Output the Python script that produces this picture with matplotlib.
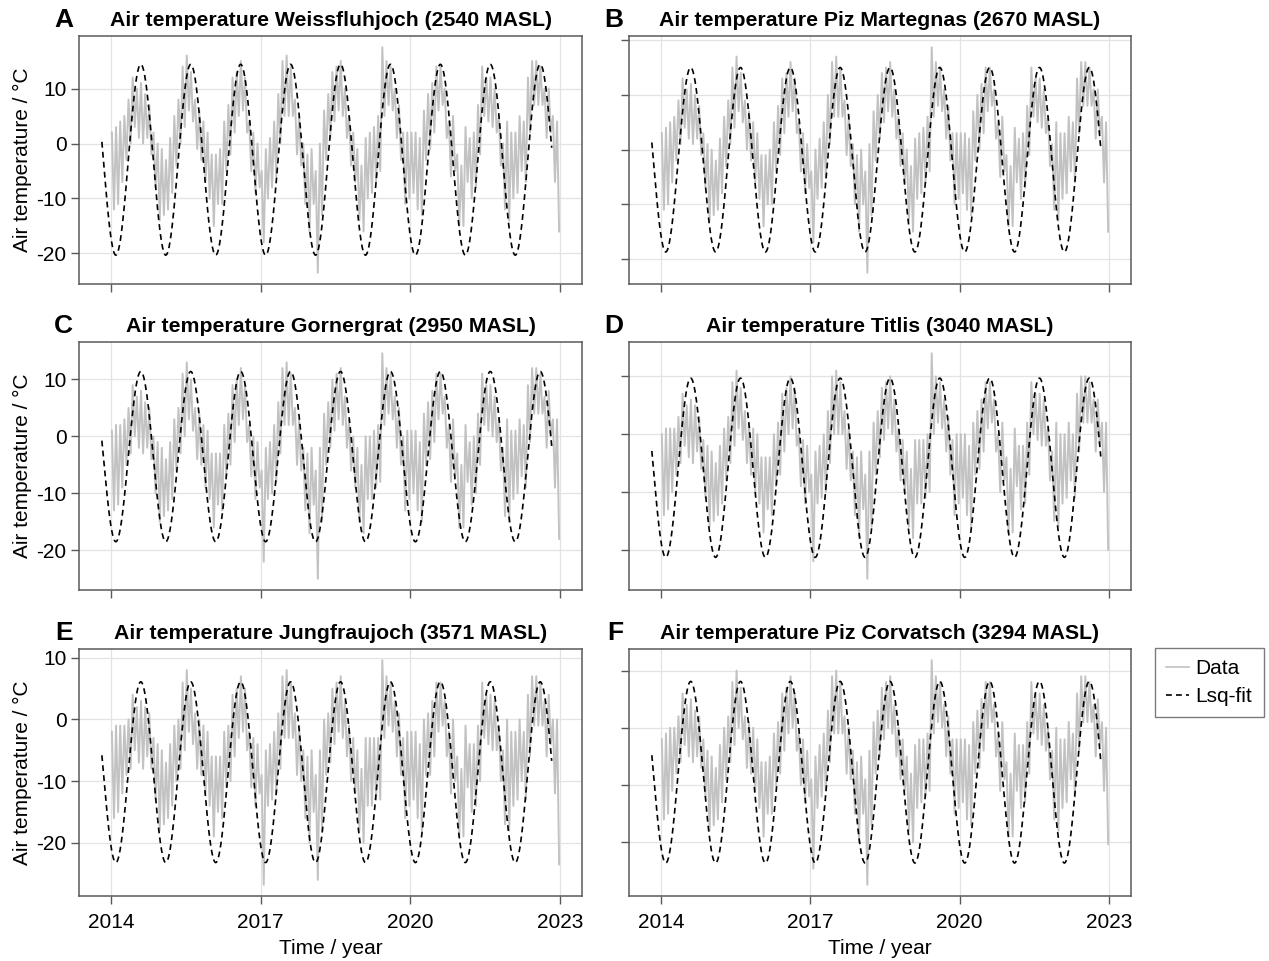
import matplotlib
matplotlib.use("Agg")
import matplotlib.pyplot as plt
from matplotlib.ticker import MultipleLocator
import numpy as np

# ── DATA ─────────────────────────────────────────────────────────────────────
# monthly (high, low) pairs, Jan 2014 .. Dec 2022
WEISS = [
    2, -12, 3, -11, 4, -7, 5, -3, 8, 0, 12, 3, 10, 1, 11, 0, 9, 1, 7, -2, 2, -8, 0, -14,
    -1, -13, -3, -12, 1, -9, 5, -4, 8, 0, 14, 3, 16, 6, 13, 4, 8, -1, 6, -3, 4, -7, 2, -10,
    -2, -15, -2, -11, -1, -11, 4, -5, 7, -2, 12, 2, 13, 5, 15, 6, 12, 2, 4, -5, 2, -9, 0, -8,
    -5, -18, -1, -10, 1, -8, 4, -6, 9, 0, 15, 5, 16, 5, 14, 5, 8, -2, 5, -4, 0, -11, -2, -16,
    -1, -11, -5, -23.5, 0, -13, 6, -3, 9, 1, 13, 4, 14, 6, 15, 5, 10, 1, 5, -4, 2, -7, -1, -14,
    -4, -16, 1, -10, 2, -9, 3, -7, 5, -5, 17.5, 5, 15, 7, 14, 6, 10, 1, 7, -3, 2, -11, 2, -10,
    2, -9, 2, -12, 1, -13, 6, -3, 9, -1, 11, 2, 14, 6, 14, 7, 10, 1, 4, -6, 5, -5, -2, -15,
    -4, -15, 3, -7, 1, -10, 2, -8, 7, -2, 14, 5, 12, 4, 12, 3, 10, 2, 5, -4, 0, -12, 4, -14,
    2, -10, 2, -9, 5, -5, 4, -7, 12, 2, 15, 7, 15, 7, 14, 7, 10, 1, 10, 2, 5, -7, 4, -16,
]
MARTEGNAS = [
    3, -11, 4, -10, 5, -6, 6, -2, 9, 1, 13, 4, 11, 2, 12, 1, 10, 2, 8, -1, 3, -7, 1, -13,
    0, -12, -2, -11, 2, -8, 6, -3, 9, 1, 15, 4, 17, 7, 14, 5, 9, 0, 7, -2, 5, -6, 3, -9,
    -1, -14, -1, -10, 0, -10, 5, -4, 8, -1, 13, 3, 14, 6, 16, 7, 13, 3, 5, -4, 3, -8, 1, -7,
    -4, -17, 0, -9, 2, -7, 5, -5, 10, 1, 16, 6, 17, 6, 15, 6, 9, -1, 6, -3, 1, -10, -1, -15,
    0, -10, -4, -22.5, 1, -12, 7, -2, 10, 2, 14, 5, 15, 7, 16, 6, 11, 2, 6, -3, 3, -6, 0, -13,
    -3, -15, 2, -9, 3, -8, 4, -6, 6, -4, 18.7, 6, 16, 8, 15, 7, 11, 2, 8, -2, 3, -10, 3, -9,
    3, -8, 3, -11, 2, -12, 7, -2, 10, 0, 12, 3, 15, 7, 15, 8, 11, 2, 5, -5, 6, -4, -1, -14,
    -3, -14, 4, -6, 2, -9, 3, -7, 8, -1, 15, 6, 13, 5, 13, 4, 11, 3, 6, -3, 1, -11, 5, -13,
    3, -9, 3, -8, 6, -4, 5, -6, 13, 3, 16, 8, 16, 8, 15, 8, 11, 2, 11, 3, 6, -6, 5, -15,
]
GORNERGRAT = [
    1, -13, 2, -12, 2, -9, 3, -5, 5, -3, 9, 0, 7, -2, 8, -3, 6, -2, 5, -4, 0, -10, -1, -15,
    -2, -14, -4, -13, -1, -11, 3, -6, 5, -3, 11, 0, 13, 3, 10, 1, 5, -4, 4, -5, 2, -9, 1, -11,
    -3, -16, -3, -12, -3, -13, 2, -7, 4, -5, 9, -1, 10, 2, 12, 3, 9, -1, 2, -7, 0, -11, -1, -9,
    -6, -22, -2, -11, -1, -10, 2, -8, 6, -3, 12, 2, 13, 2, 11, 2, 5, -5, 3, -6, -2, -13, -3, -17,
    -2, -12, -6, -25, -2, -15, 4, -5, 6, -2, 10, 1, 11, 3, 12, 2, 7, -2, 3, -6, 0, -9, -2, -15,
    -5, -17, 0, -11, 0, -11, 1, -9, 2, -8, 14.6, 2, 12, 4, 11, 3, 7, -2, 5, -5, 0, -13, 1, -11,
    1, -10, 1, -13, -1, -15, 4, -5, 6, -4, 8, -1, 11, 3, 11, 4, 7, -2, 2, -8, 3, -7, -3, -16,
    -5, -16, 2, -8, -1, -12, 0, -10, 4, -5, 11, 2, 9, 1, 9, 0, 7, -1, 3, -6, -2, -14, 3, -15,
    1, -11, 1, -10, 3, -7, 2, -9, 9, -1, 12, 4, 12, 4, 11, 4, 7, -2, 8, 0, 3, -9, 3, -18,
]
TITLIS = [
    0, -14, 1, -13, 1, -10, 1, -7, 3, -5, 7, -2, 5, -4, 6, -5, 5, -3, 3, -6, -1, -11, -2, -16,
    -3, -15, -5, -14, -2, -12, 1, -8, 3, -5, 9, -2, 11, 1, 8, -1, 4, -5, 2, -7, 1, -10, 0, -12,
    -4, -17, -4, -13, -4, -14, 0, -9, 2, -7, 7, -3, 8, 0, 10, 1, 8, -2, 0, -9, -1, -12, -2, -10,
    -7, -22, -3, -12, -2, -11, 0, -10, 4, -5, 10, 0, 11, 0, 9, 0, 4, -6, 1, -8, -3, -14, -4, -18,
    -3, -13, -7, -25, -3, -16, 2, -7, 4, -4, 8, -1, 9, 1, 10, 0, 6, -3, 1, -8, -1, -10, -3, -16,
    -6, -18, -1, -12, -1, -12, -1, -11, 0, -10, 14, 0, 10, 2, 9, 1, 6, -3, 3, -7, -1, -14, 0, -12,
    0, -11, 0, -14, -2, -16, 2, -7, 4, -6, 6, -3, 9, 1, 9, 2, 6, -3, 0, -10, 2, -8, -4, -17,
    -6, -17, 1, -9, -2, -13, -2, -12, 2, -7, 9, 0, 7, -1, 7, -2, 6, -2, 1, -8, -3, -15, 2, -16,
    0, -12, 0, -11, 2, -8, 0, -11, 7, -3, 10, 2, 10, 2, 9, 2, 6, -3, 6, -2, 2, -10, 2, -20,
]
JUNGFRAUJOCH = [
    -2, -16, -1, -15, -1, -12, -1, -9, 0, -8, 4, -5, 2, -7, 3, -8, 2, -6, 1, -8, -3, -13, -4, -18,
    -5, -17, -7, -16, -4, -14, -1, -10, 0, -8, 6, -5, 8, -2, 5, -4, 1, -8, 0, -9, -1, -12, -2, -14,
    -6, -19, -6, -15, -6, -16, -2, -11, -1, -10, 4, -6, 5, -3, 7, -2, 5, -5, -2, -11, -3, -14, -4, -12,
    -9, -26.8, -5, -14, -4, -13, -2, -12, 1, -8, 7, -3, 8, -3, 6, -3, 1, -9, -1, -10, -5, -16, -6, -20,
    -5, -15, -9, -26, -5, -18, 0, -9, 1, -7, 5, -4, 6, -2, 7, -3, 3, -6, -1, -10, -3, -12, -5, -18,
    -8, -20, -3, -14, -3, -14, -3, -13, -3, -13, 9.6, -3, 7, -1, 6, -2, 3, -6, 1, -9, -3, -16, -2, -14,
    -2, -13, -2, -16, -4, -18, 0, -9, 1, -9, 3, -6, 6, -2, 6, -1, 3, -6, -2, -12, 0, -10, -6, -19,
    -8, -19, -1, -11, -4, -15, -4, -14, -1, -10, 6, -3, 4, -4, 4, -5, 3, -5, -1, -10, -5, -17, 0, -18,
    -2, -14, -2, -13, 0, -10, -2, -13, 4, -6, 7, -1, 7, -1, 6, -1, 3, -6, 4, -4, 0, -12, 0, -23.5,
]
CORVATSCH = [
    -2, -16, -1, -15, 0, -11, 0, -8, 2, -6, 6, -3, 4, -5, 5, -6, 3, -5, 2, -7, -2, -12, -4, -18,
    -5, -17, -7, -16, -3, -13, 0, -9, 2, -6, 8, -3, 10, 0, 7, -2, 2, -7, 1, -8, 0, -11, -2, -14,
    -6, -19, -6, -15, -5, -15, -1, -10, 1, -8, 6, -4, 7, -1, 9, 0, 6, -4, -1, -10, -2, -13, -4, -12,
    -9, -24.6, -5, -14, -3, -12, -1, -11, 3, -6, 9, -1, 10, -1, 8, -1, 2, -8, 0, -9, -4, -15, -6, -20,
    -5, -15, -9, -27.4, -4, -17, 1, -8, 3, -5, 7, -2, 8, 0, 9, -1, 4, -5, 0, -9, -2, -11, -5, -18,
    -8, -20, -3, -14, -2, -13, -2, -12, -1, -11, 11.8, -1, 9, 1, 8, 0, 4, -5, 2, -8, -2, -15, -2, -14,
    -2, -13, -2, -16, -3, -17, 1, -8, 3, -7, 5, -4, 8, 0, 8, 1, 4, -5, -1, -11, 1, -9, -6, -19,
    -8, -19, -1, -11, -3, -14, -3, -13, 1, -8, 8, -1, 6, -2, 6, -3, 4, -4, 0, -9, -4, -16, 0, -18,
    -2, -14, -2, -13, 1, -9, -1, -12, 6, -4, 9, 1, 9, 1, 8, 1, 4, -5, 5, -3, 1, -11, 0, -20.3,
]

STATIONS = ["Weissfluhjoch (2540 MASL)", "Piz Martegnas (2670 MASL)",
            "Gornergrat (2950 MASL)", "Titlis (3040 MASL)",
            "Jungfraujoch (3571 MASL)", "Piz Corvatsch (3294 MASL)"]
SERIES = [WEISS, MARTEGNAS, GORNERGRAT, TITLIS, JUNGFRAUJOCH, CORVATSCH]
LETTERS = ["A", "B", "C", "D", "E", "F"]

# least-squares annual fit: mean, amplitude, phase of the peak (fraction of year)
FIT_MEAN = [-2.95, -1.85, -3.55, -5.8, -8.55, -7.75]
FIT_AMP = [17.35, 16.85, 14.95, 15.5, 14.65, 15.85]
FIT_PEAK = 0.60
FIT_START, FIT_END = 2013.82, 2022.83
START_YEAR = 2014

X_TICKS = [2014, 2017, 2020, 2023]

# ── STYLE ────────────────────────────────────────────────────────────────────
C_DATA = "#c2c2c2"
C_FRAME = "#5a5a5a"
C_GRID = "#e3e3e3"
FS = 15

plt.rcParams.update({
    "font.family": ["Liberation Sans", "DejaVu Sans"],
    "axes.unicode_minus": False,
})

W, H = 1269, 961
fig = plt.figure(figsize=(W / 100, H / 100), dpi=100)
fig.patch.set_facecolor("white")

cols = [(79, 582), (629, 1131)]
rows = [(36, 284), (342, 590), (649, 896)]


def px_rect(x0, x1, y0, y1):
    return [x0 / W, 1 - y1 / H, (x1 - x0) / W, (y1 - y0) / H]


t_fit = np.linspace(FIT_START, FIT_END, 1200)
axes = []
for i, (name, vals) in enumerate(zip(STATIONS, SERIES)):
    r, c = divmod(i, 2)
    ax = fig.add_axes(px_rect(cols[c][0], cols[c][1], rows[r][0], rows[r][1]))
    axes.append(ax)

    vals = np.asarray(vals, dtype=float)
    n = len(vals) // 2
    month = np.repeat(np.arange(n), 2) + np.tile([0.25, 0.75], n)
    t = START_YEAR + month / 12.0

    ax.plot(t, vals, color=C_DATA, lw=1.4, label="Data", zorder=2)
    fit = FIT_MEAN[i] + FIT_AMP[i] * np.cos(2 * np.pi * (t_fit - START_YEAR - FIT_PEAK))
    ax.plot(t_fit, fit, color="black", lw=1.2, ls=(0, (3.5, 2.5)),
            label="Lsq-fit", zorder=3)

    ax.set_xticks(X_TICKS)
    ax.yaxis.set_major_locator(MultipleLocator(10))
    ax.grid(True, color=C_GRID, lw=0.9, zorder=0)
    ax.set_axisbelow(True)
    for sp in ax.spines.values():
        sp.set_color(C_FRAME)
        sp.set_linewidth(1.1)
    ax.tick_params(direction="out", length=6, width=1, color=C_FRAME,
                   labelsize=FS, pad=3, labelcolor="black")
    ax.tick_params(axis="x", pad=6)

    ax.set_title("Air temperature " + name, fontsize=15.3, fontweight="bold", pad=7)
    ax.text(-0.012, 1.036, LETTERS[i], transform=ax.transAxes, fontsize=19,
            fontweight="bold", ha="right", va="baseline")

    if c == 0:
        ax.set_ylabel("Air temperature / °C", fontsize=FS)
        ax.yaxis.set_label_coords(-0.094, 0.5)
    else:
        ax.tick_params(labelleft=False)
    if r < 2:
        ax.tick_params(labelbottom=False)
    else:
        ax.set_xlabel("Time / year", fontsize=FS, labelpad=5)

handles, labels = axes[-1].get_legend_handles_labels()
leg = fig.legend(handles, labels, loc="upper left",
                 bbox_to_anchor=(1155 / W, 1 - 648 / H), borderaxespad=0,
                 fontsize=FS, frameon=True, fancybox=False, handlelength=1.1,
                 handletextpad=0.3, borderpad=0.55, labelspacing=0.4)
leg.get_frame().set_edgecolor(C_FRAME)
leg.get_frame().set_linewidth(1.0)
for h in leg.get_lines():
    h.set_linewidth(1.2)

fig.savefig("out.png", dpi=100, facecolor="white")
